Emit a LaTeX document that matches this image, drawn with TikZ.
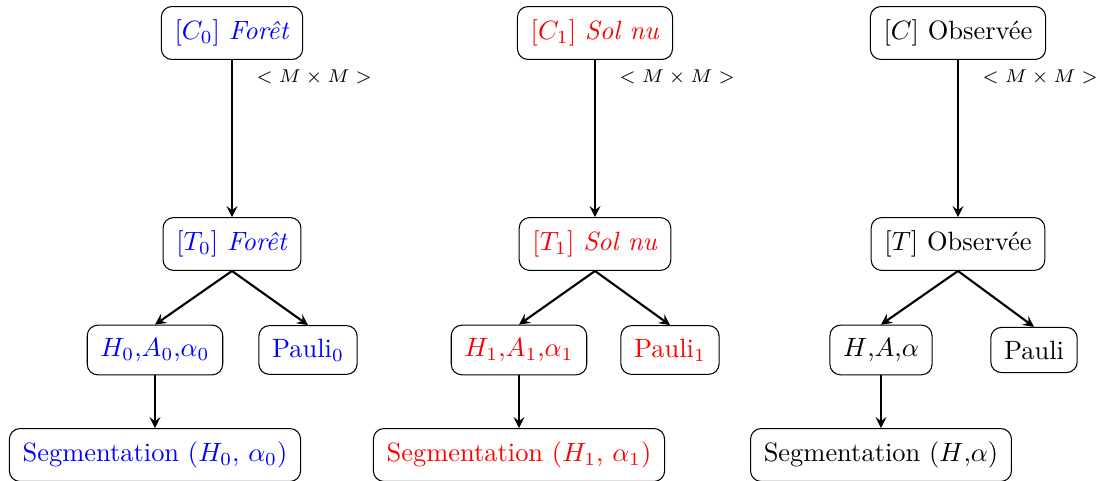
\documentclass[tikz,border=0pt]{standalone}
\usepackage{amsmath}
\usepackage{tikz}
\usepackage{color}
\usetikzlibrary{arrows}

\tikzset{
  boite/.style={draw, rounded corners=4pt, inner sep=5pt},
  fleche/.style={->, >=stealth, thick},
  taille/.style={font=\fontsize{7.5}{9}\selectfont, anchor=west, xshift=5.5pt}
}

\begin{document}
\begin{tikzpicture}[x=0.378pt,y=0.378pt,yscale=-1,xscale=1]
\useasboundingbox (0,0) rectangle (1102,481);

% Foret
\node[boite, text=blue] (C0) at (232,33) {$[C_0]$ \textit{Forêt}};
\node[boite, text=blue] (T0) at (232,244) {$[T_0]$ \textit{Forêt}};
\node[boite, text=blue] (H0) at (155,350) {$H_0$,$A_0$,$\alpha_0$};
\node[boite, text=blue] (P0) at (308,350) {Pauli$_0$};
\node[boite, text=blue] (S0) at (155,455) {Segmentation ($H_0$, $\alpha_0$)};

% Sol nu
\node[boite, text=red] (C1) at (595,33) {$[C_1]$ \textit{Sol nu}};
\node[boite, text=red] (T1) at (595,244) {$[T_1]$ \textit{Sol nu}};
\node[boite, text=red] (H1) at (519,350) {$H_1$,$A_1$,$\alpha_1$};
\node[boite, text=red] (P1) at (670,350) {Pauli$_1$};
\node[boite, text=red] (S1) at (519,455) {Segmentation ($H_1$, $\alpha_1$)};

% Observee
\node[boite] (C) at (958,33) {$[C]$ Observée};
\node[boite] (T) at (958,244) {$[T]$ Observée};
\node[boite] (H) at (881,350) {$H$,$A$,$\alpha$};
\node[boite] (P) at (1034,350) {Pauli};
\node[boite] (S) at (881,455) {Segmentation ($H$,$\alpha$)};

%Straight Lines
\draw[fleche] (C0) -- node[taille, pos=0.11] {$< M \times M >$} (T0);
\draw[fleche] (T0.south) -- (H0.north);
\draw[fleche] (T0.south) -- (P0.north);
\draw[fleche] (H0) -- (S0);

\draw[fleche] (C1) -- node[taille, pos=0.11] {$< M \times M >$} (T1);
\draw[fleche] (T1.south) -- (H1.north);
\draw[fleche] (T1.south) -- (P1.north);
\draw[fleche] (H1) -- (S1);

\draw[fleche] (C) -- node[taille, pos=0.11] {$< M \times M >$} (T);
\draw[fleche] (T.south) -- (H.north);
\draw[fleche] (T.south) -- (P.north);
\draw[fleche] (H) -- (S);

\end{tikzpicture}
\end{document}
